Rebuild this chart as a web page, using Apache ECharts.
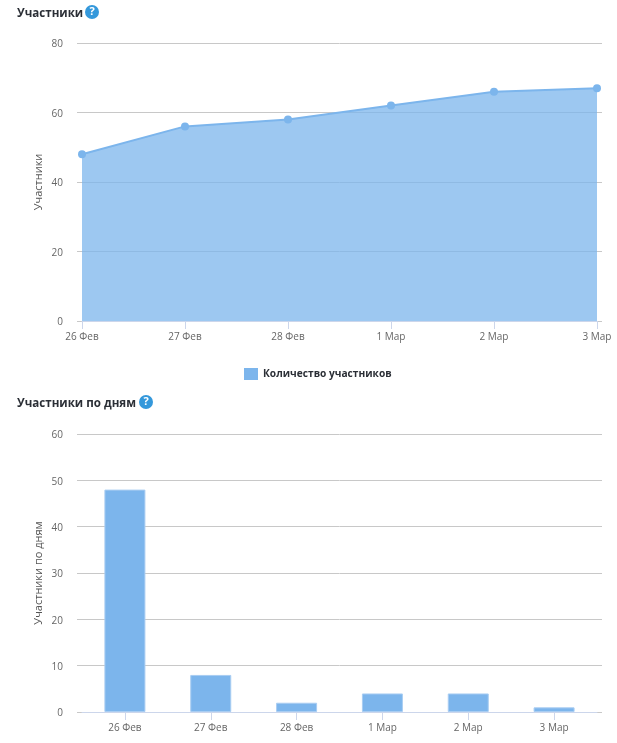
<!DOCTYPE html>
<html>
<head>
<meta charset="utf-8">
<style>
  html, body { margin: 0; padding: 0; background: #fff; }
  #chart { width: 617px; height: 743px; }
</style>
<script src="https://cdn.jsdelivr.net/npm/echarts@6/dist/echarts.min.js"></script>
</head>
<body>
<div id="chart"></div>
<script>
const days = ["26 Фев", "27 Фев", "28 Фев", "1 Мар", "2 Мар", "3 Мар"];
const totalMembers = [48, 56, 58, 62, 66, 67];
const dailyMembers = [48, 8, 2, 4, 4, 1];

const FONT = "'Open Sans', sans-serif";
const BLUE = "#7cb5ec";
const TICK = "#ccd6eb";
const GRID_LINE = "#c8c8c8";

const chart = echarts.init(document.getElementById("chart"));

// задняя сетка шире области данных: линии выступают на 5px с каждой стороны
const valueAxis = (gridIndex, name, max, interval) => ({
  type: "value",
  gridIndex,
  min: 0,
  max,
  interval,
  name,
  nameLocation: "middle",
  nameGap: 33,
  nameMoveOverlap: false,
  nameTextStyle: { color: "#555", fontSize: 11, fontFamily: FONT },
  axisLine: { show: false },
  axisTick: { show: false },
  axisLabel: {
    margin: 14,
    formatter: "{v|{value}}",
    rich: { v: { color: "#666", fontSize: 10, fontFamily: FONT, padding: [3, 0, 0, 0] } }
  },
  splitLine: { show: true, lineStyle: { color: GRID_LINE, width: 1 } }
});

const hiddenCategory = (gridIndex) => ({
  type: "category",
  gridIndex,
  data: days,
  show: false
});

const hiddenValue = (gridIndex, max) => ({
  type: "value",
  gridIndex,
  min: 0,
  max,
  show: false
});

const dayAxis = (gridIndex, boundaryGap) => ({
  type: "category",
  gridIndex,
  data: days,
  boundaryGap,
  axisLine: { show: true, lineStyle: { color: TICK, width: 1 } },
  axisTick: { show: true, alignWithLabel: true, length: 8, lineStyle: { color: TICK } },
  axisLabel: {
    color: "#666",
    fontSize: 10,
    fontFamily: FONT,
    margin: 11,
    interval: 0,
    hideOverlap: false
  },
  splitLine: { show: false }
});

const helpIcon = (x, y) => ({
  type: "group",
  x,
  y,
  children: [
    { type: "circle", shape: { cx: 0, cy: 0, r: 7 }, style: { fill: "#3498db" } },
    {
      type: "text",
      style: {
        x: 0,
        y: 0,
        text: "?",
        fill: "#fff",
        font: "bold 11px " + FONT,
        align: "center",
        verticalAlign: "middle"
      }
    }
  ]
});

const titleStyle = { color: "#2b2f36", fontSize: 11.6, fontWeight: "bold", fontFamily: FONT };

chart.setOption({
  animation: false,
  title: [
    { text: "Участники", left: 17, top: 8, padding: 0, textStyle: titleStyle },
    { text: "Участники по дням", left: 17, top: 398, padding: 0, textStyle: titleStyle }
  ],
  legend: {
    data: [{ name: "Количество участников", icon: "rect", itemStyle: { color: BLUE, opacity: 1 } }],
    left: 244,
    top: 368,
    padding: 0,
    itemWidth: 14,
    itemHeight: 12,
    itemGap: 5,
    textStyle: { color: "#2b2f36", fontSize: 10.2, fontWeight: "bold", fontFamily: FONT }
  },
  grid: [
    { left: 77, right: 15, top: 43, height: 278 },
    { left: 82, right: 20, top: 43, height: 278 },
    { left: 77, right: 15, top: 434, height: 278 },
    { left: 82, right: 20, top: 434, height: 278 }
  ],
  xAxis: [
    hiddenCategory(0),
    dayAxis(1, false),
    hiddenCategory(2),
    dayAxis(3, true)
  ],
  yAxis: [
    valueAxis(0, "Участники", 80, 20),
    hiddenValue(1, 80),
    valueAxis(2, "Участники по дням", 60, 10),
    hiddenValue(3, 60)
  ],
  series: [
    {
      name: "Количество участников",
      type: "line",
      xAxisIndex: 1,
      yAxisIndex: 1,
      data: totalMembers,
      clip: false,
      symbol: "circle",
      symbolSize: 8,
      showSymbol: true,
      lineStyle: { color: BLUE, width: 2 },
      itemStyle: { color: BLUE },
      areaStyle: { color: BLUE, opacity: 0.75 }
    },
    {
      name: "Участники по дням",
      type: "bar",
      xAxisIndex: 3,
      yAxisIndex: 3,
      data: dailyMembers,
      barWidth: 41,
      itemStyle: { color: BLUE, borderColor: "#a9cdf2", borderWidth: 1 }
    }
  ],
  graphic: [helpIcon(92, 12), helpIcon(146, 402)]
});
</script>
</body>
</html>
